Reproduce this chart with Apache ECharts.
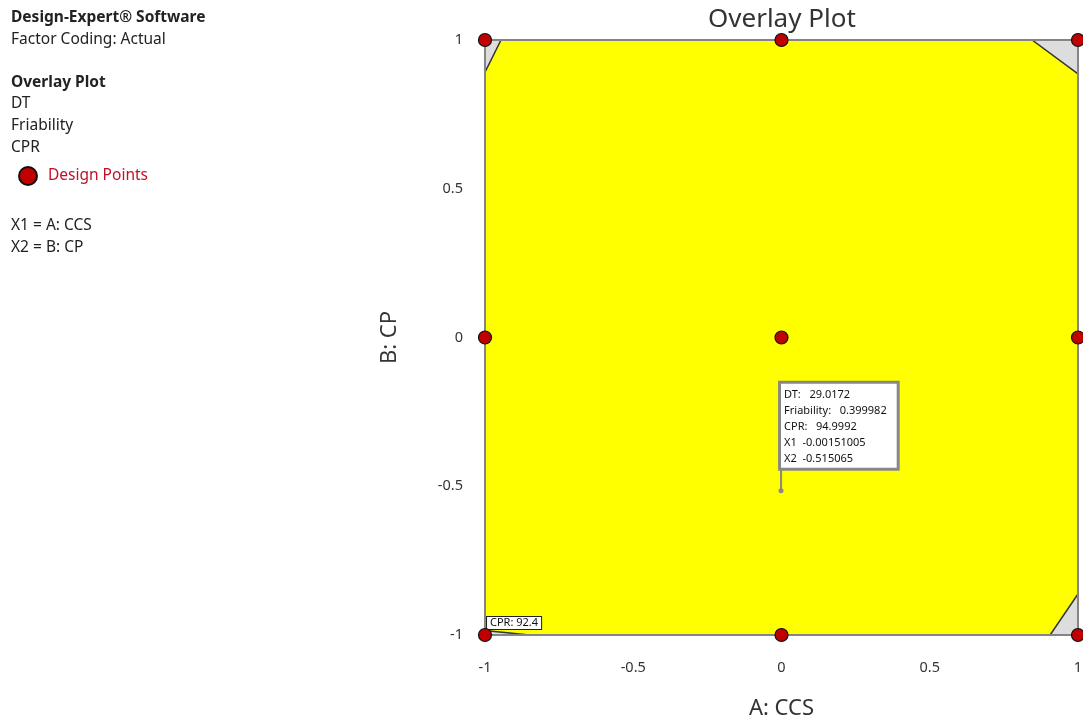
<!DOCTYPE html>
<html>
<head>
<meta charset="utf-8">
<script src="https://cdn.jsdelivr.net/npm/echarts@6/dist/echarts.min.js"></script>
<style>
  html, body { margin: 0; padding: 0; background: #fff; }
  #chart { width: 1083px; height: 721px; }
</style>
</head>
<body>
<div id="chart"></div>
<script>
// axis ticks (coded factor levels)
const tickValues = [-1, -0.5, 0, 0.5, 1];

// design points (A: CCS, B: CP)
const designX = [-1, 0, 1, -1, 0, 1, -1, 0, 1];
const designY = [1, 1, 1, 0, 0, 0, -1, -1, -1];

// yellow feasible region (corners cut by the constraint contours)
const feasibleX = [-0.946, 0.845, 1, 1, 0.906, -0.85, -1, -1];
const feasibleY = [1, 1, 0.886, -0.862, -1, -1, -0.985, 0.892];

// contour label
const contourLabelX = [-0.902];
const contourLabelY = [-0.96];
const contourLabelText = ['CPR: 92.4'];

// flag
const flagNames = ['DT:', 'Friability:', 'CPR:', 'X1', 'X2'];
const flagValues = ['29.0172', '0.399982', '94.9992', '-0.00151005', '-0.515065'];
const flagX = -0.00151005;
const flagY = -0.515065;

const font = '"Noto Sans", "Open Sans", sans-serif';
const chart = echarts.init(document.getElementById('chart'));

const leftText = [
  { text: 'Design-Expert® Software', top: 10, bold: true },
  { text: 'Factor Coding: Actual', top: 32 },
  { text: 'Overlay Plot', top: 75, bold: true },
  { text: 'DT', top: 96 },
  { text: 'Friability', top: 118 },
  { text: 'CPR', top: 140 },
  { text: 'X1 = A: CCS', top: 218 },
  { text: 'X2 = B: CP', top: 240 }
];

chart.setOption({
  animation: false,
  textStyle: { fontFamily: font },
  title: {
    text: 'Overlay Plot',
    left: 703,
    top: 2,
    textStyle: { fontSize: 26, fontWeight: 'normal', color: '#333', fontFamily: font }
  },
  graphic: leftText.map(t => ({
    type: 'text',
    left: 11,
    top: t.top,
    style: {
      text: t.text,
      fontSize: 15.5,
      fontWeight: t.bold ? 'bold' : 'normal',
      fill: '#222',
      fontFamily: font
    }
  })),
  legend: {
    left: 13,
    top: 161,
    itemWidth: 18,
    itemHeight: 18,
    itemGap: 8,
    data: [{ name: 'Design Points', icon: 'circle' }],
    textStyle: { color: '#c0102a', fontSize: 15.5, fontFamily: font, padding: [0, 0, 0, 6] }
  },
  grid: {
    left: 485, right: 5, top: 40, bottom: 86,
    outerBoundsMode: 'none',
    show: true, backgroundColor: '#dddddd', borderWidth: 0
  },
  xAxis: {
    type: 'value',
    min: -1, max: 1, interval: 0.5,
    name: 'A: CCS',
    nameLocation: 'middle',
    nameGap: 63,
    nameTextStyle: { fontSize: 22, color: '#333', fontFamily: font },
    axisLine: { show: false },
    axisTick: { show: true, length: 13, lineStyle: { color: '#555', width: 1 } },
    axisLabel: { margin: 25, fontSize: 14.5, color: '#333', fontFamily: font,
      formatter: v => tickValues.includes(v) ? String(v) : '' },
    splitLine: { show: false }
  },
  yAxis: {
    type: 'value',
    min: -1, max: 1, interval: 0.5,
    name: 'B: CP',
    nameLocation: 'middle',
    nameGap: 84,
    nameTextStyle: { fontSize: 22, color: '#333', fontFamily: font },
    axisLine: { show: false },
    axisTick: { show: true, length: 13, lineStyle: { color: '#555', width: 1 } },
    axisLabel: { margin: 22, fontSize: 14.5, color: '#333', fontFamily: font,
      formatter: v => tickValues.includes(v) ? String(v) : '' },
    splitLine: { show: false }
  },
  series: [
    {
      name: 'Feasible',
      type: 'custom',
      z: 1,
      silent: true,
      data: feasibleX.map((x, i) => [x, feasibleY[i]]),
      renderItem: (params, api) => {
        if (params.dataIndex !== 0) return null;
        const pts = feasibleX.map((x, i) => api.coord([x, feasibleY[i]]));
        const tl = api.coord([-1, 1]);
        const br = api.coord([1, -1]);
        const children = [
          {
            type: 'polygon',
            shape: { points: pts },
            style: { fill: '#ffff00', stroke: '#333', lineWidth: 1.5 }
          },
          {
            type: 'rect',
            shape: { x: tl[0], y: tl[1], width: br[0] - tl[0], height: br[1] - tl[1] },
            style: { fill: null, stroke: '#858585', lineWidth: 2 }
          }
        ];
        contourLabelX.forEach((x, i) => {
          const p = api.coord([x, contourLabelY[i]]);
          children.push({
            type: 'text',
            x: p[0], y: p[1],
            style: {
              text: contourLabelText[i],
              align: 'center', verticalAlign: 'middle',
              fontSize: 11, fill: '#111', fontFamily: font,
              backgroundColor: '#fff', borderColor: '#222', borderWidth: 1,
              padding: [1, 3, 0, 3]
            }
          });
        });
        return { type: 'group', children };
      }
    },
    {
      name: 'Flag',
      type: 'custom',
      z: 3,
      silent: true,
      data: [[flagX, flagY]],
      renderItem: (params, api) => {
        const p = api.coord([api.value(0), api.value(1)]);
        const stem = 23;
        return {
          type: 'group',
          children: [
            { type: 'line', shape: { x1: p[0], y1: p[1], x2: p[0], y2: p[1] - stem },
              style: { stroke: '#888', lineWidth: 2 } },
            { type: 'circle', shape: { cx: p[0], cy: p[1], r: 2.5 }, style: { fill: '#888' } },
            {
              type: 'text',
              x: p[0], y: p[1] - stem,
              style: {
                text: flagNames.map((n, i) => n + (i < 3 ? '   ' : '  ') + flagValues[i]).join('\n'),
                align: 'left', verticalAlign: 'bottom',
                fontSize: 11, lineHeight: 16, fill: '#111', fontFamily: font,
                backgroundColor: '#fff', borderColor: '#888', borderWidth: 3,
                padding: [3, 10, 1, 3]
              }
            }
          ]
        };
      }
    },
    {
      name: 'Design Points',
      type: 'scatter',
      z: 5,
      symbol: 'circle',
      symbolSize: 13,
      data: designX.map((x, i) => [x, designY[i]]),
      itemStyle: { color: '#c00000', borderColor: '#111', borderWidth: 1.2, opacity: 1 }
    }
  ]
});
</script>
</body>
</html>
